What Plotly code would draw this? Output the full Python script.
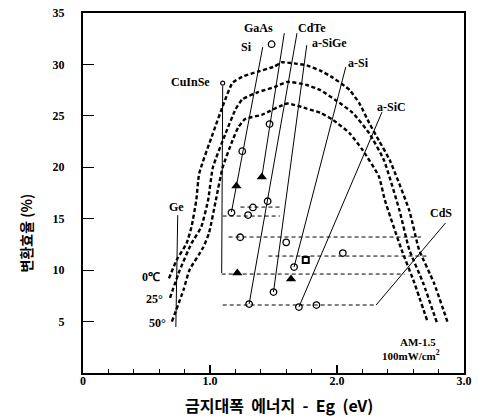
import plotly.graph_objects as go

# --- theoretical efficiency curves (bandgap eV, efficiency %) ---
eg_0c = [0.677, 0.738, 0.815, 0.854, 0.892, 0.915, 1.023, 1.108, 1.177, 1.254, 1.377, 1.508, 1.562, 1.662,
         1.762, 1.869, 1.969, 2.1, 2.177, 2.254, 2.33, 2.415, 2.569, 2.646, 2.762, 2.869]
eff_0c = [9.2, 11.0, 12.6, 14.2, 16.8, 19.4, 23.3, 26.2, 28.2, 28.8, 29.3, 29.8, 30.2, 30.1,
          29.9, 29.4, 28.7, 27.5, 26.2, 24.3, 22.6, 20.7, 15.8, 12.0, 8.8, 5.0]
eg_25c = [0.685, 0.762, 0.854, 0.931, 0.985, 1.023, 1.123, 1.2, 1.254, 1.377, 1.508, 1.608,
          1.762, 1.869, 1.992, 2.123, 2.254, 2.369, 2.492, 2.569, 2.677, 2.792]
eff_25c = [7.3, 10.0, 12.6, 14.2, 16.8, 20.0, 23.3, 25.6, 26.6, 27.3, 27.8, 28.3,
           28.0, 27.5, 26.5, 25.3, 23.3, 20.7, 15.8, 12.0, 8.8, 4.7]
eg_50c = [0.7, 0.792, 0.838, 0.946, 0.992, 1.046, 1.1, 1.177, 1.223, 1.277, 1.408, 1.608,
          1.762, 1.869, 1.969, 2.1, 2.2, 2.33, 2.377, 2.508, 2.608, 2.715]
eff_50c = [5.0, 8.1, 10.0, 12.2, 13.6, 16.8, 20.0, 22.6, 23.9, 24.7, 25.1, 26.2,
           25.7, 25.3, 24.6, 23.3, 21.7, 19.1, 16.8, 12.0, 8.8, 4.9]
temp_labels = ["0℃", "25°", "50°"]

# --- material guide lines (label end -> data end) ---
materials = ["Ge", "CuInSe", "Si", "GaAs", "CdTe", "a-SiGe", "a-Si", "a-SiC", "CdS"]
line_x0 = [0.746, 1.100, 1.415, 1.585, 1.685, 1.762, 2.069, 2.354, 2.854]
line_y0 = [15.35, 27.9, 31.68, 33.04, 33.04, 31.87, 29.74, 25.36, 14.58]
line_x1 = [0.731, 1.092, 1.169, 1.408, 1.308, 1.500, 1.662, 1.700, 2.308]
line_y1 = [4.47, 9.72, 15.65, 19.05, 6.70, 7.87, 10.30, 6.41, 6.61]
label_x = [0.738, 0.846, 1.285, 1.385, 1.800, 1.938, 2.169, 2.431, 2.815]
label_y = [16.13, 28.28, 31.68, 33.53, 33.53, 32.07, 30.13, 25.85, 15.55]

# --- dashed horizontal guide lines ---
dash_y = [16.13, 15.26, 13.22, 11.37, 9.62, 6.61]
dash_x0 = [1.24, 1.10, 1.146, 1.46, 1.092, 1.10]
dash_x1 = [1.55, 1.55, 2.662, 2.708, 2.531, 2.308]

# --- measured cells ---
circle_x = [1.485, 1.254, 1.469, 1.454, 1.338, 1.169, 1.300, 1.238, 1.600, 2.046, 1.662, 1.500, 1.308, 1.700, 1.838]
circle_y = [31.97, 21.57, 24.20, 16.70, 16.10, 15.60, 15.35, 13.20, 12.70, 11.66, 10.30, 7.87, 6.70, 6.41, 6.60]
triangle_x = [1.208, 1.408, 1.215, 1.638]
triangle_y = [18.17, 19.05, 9.72, 9.14]
square_x = [1.754]
square_y = [10.98]
cuinse_x = [1.100]
cuinse_y = [28.18]

fig = go.Figure()

curve_style = dict(color="black", width=2.4, dash="4px,2.5px", shape="spline", smoothing=0.5)
for xs, ys in [(eg_0c, eff_0c), (eg_25c, eff_25c), (eg_50c, eff_50c)]:
    fig.add_trace(go.Scatter(x=xs, y=ys, mode="lines", line=curve_style, hoverinfo="skip"))

for x0, y0, x1, y1 in zip(line_x0, line_y0, line_x1, line_y1):
    fig.add_trace(go.Scatter(x=[x0, x1], y=[y0, y1], mode="lines",
                             line=dict(color="black", width=1), hoverinfo="skip"))

for y, x0, x1 in zip(dash_y, dash_x0, dash_x1):
    fig.add_trace(go.Scatter(x=[x0, x1], y=[y, y], mode="lines",
                             line=dict(color="black", width=1, dash="4px,3px"), hoverinfo="skip"))

fig.add_trace(go.Scatter(x=circle_x, y=circle_y, mode="markers",
                         marker=dict(symbol="circle-open", size=6.5, color="black", line=dict(width=1.3))))
fig.add_trace(go.Scatter(x=triangle_x, y=triangle_y, mode="markers",
                         marker=dict(symbol="triangle-up", size=9, color="black")))
fig.add_trace(go.Scatter(x=square_x, y=square_y, mode="markers",
                         marker=dict(symbol="square-open", size=6, color="black", line=dict(width=2))))
fig.add_trace(go.Scatter(x=cuinse_x, y=cuinse_y, mode="markers",
                         marker=dict(symbol="circle-open", size=4, color="black", line=dict(width=1.2))))

lab_font = dict(family="Liberation Serif", size=12, color="black", weight="bold")
for name, x, y in zip(materials, label_x, label_y):
    fig.add_annotation(x=x, y=y, text=name, showarrow=False, font=lab_font,
                       xanchor="center", yanchor="middle")

temp_pos_x = [0.538, 0.562, 0.585]
temp_pos_y = [9.33, 7.19, 4.86]
for t, x, y in zip(temp_labels, temp_pos_x, temp_pos_y):
    fig.add_annotation(x=x, y=y, text=t, showarrow=False, font=lab_font,
                       xanchor="center", yanchor="middle")

fig.add_annotation(x=2.638, y=3.01, text="AM-1.5", showarrow=False,
                   font=dict(family="Liberation Serif", size=11, color="black", weight="bold"))
fig.add_annotation(x=2.585, y=1.75, text="100mW/cm<sup>2</sup>", showarrow=False,
                   font=dict(family="Liberation Serif", size=11, color="black", weight="bold"))

# axis titles
fig.add_annotation(xref="paper", yref="paper", x=0.514, y=-0.09, text="금지대폭  에너지  -  Eg  (eV)",
                   showarrow=False, xanchor="center", yanchor="middle",
                   font=dict(family="Noto Sans CJK KR", size=16, color="black", weight="bold"))
fig.add_annotation(xref="paper", yref="paper", x=-0.15, y=0.39, text="변환효율 (%)", textangle=-90,
                   showarrow=False, xanchor="center", yanchor="middle",
                   font=dict(family="Noto Sans CJK KR", size=14, color="black", weight="bold"))

tick_font = dict(family="Liberation Serif", size=12, color="black", weight="bold")
fig.update_layout(
    width=478, height=419,
    margin=dict(l=83, r=6, t=13, b=46),
    paper_bgcolor="white", plot_bgcolor="white",
    showlegend=False,
    xaxis=dict(range=[0, 3.0], showgrid=False, zeroline=False, showline=True, mirror=True,
               linecolor="black", linewidth=2, ticks="inside", ticklen=8, tickwidth=1.5, tickcolor="black",
               tickvals=[0, 1, 2, 3], ticktext=["0", "1.0", "2.0", "3.0"], tickfont=tick_font,
               ticklabelstandoff=-4,
               minor=dict(ticks="inside", ticklen=4, tickwidth=1.2, dtick=0.2, tick0=0, tickcolor="black")),
    yaxis=dict(range=[0, 35], showgrid=False, zeroline=False, showline=True, mirror=True,
               linecolor="black", linewidth=2, ticks="inside", ticklen=11, tickwidth=1.2, tickcolor="black",
               tickvals=[5, 10, 15, 20, 25, 30, 35], tickfont=tick_font, ticklabelstandoff=14),
)

fig.write_html("out.html", config={"displayModeBar": False},
               post_script="document.body.style.margin='0';document.body.style.padding='0';"
                           "document.documentElement.style.overflow='hidden';")
